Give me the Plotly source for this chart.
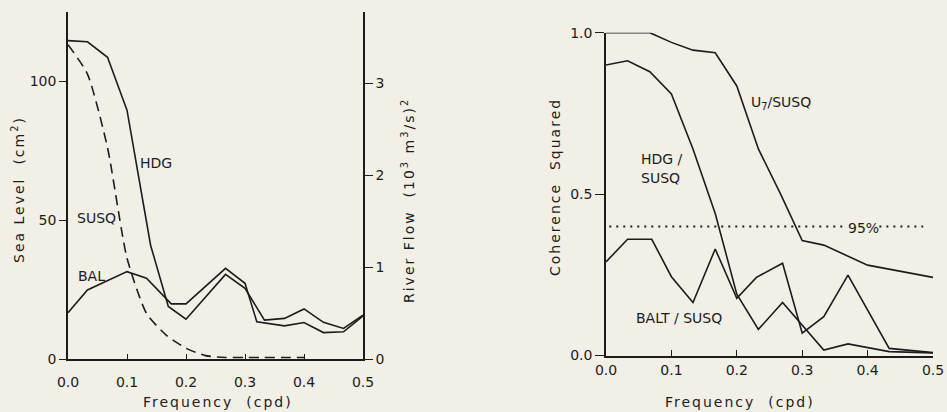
import plotly.graph_objects as go

# ---------------- data ----------------
# Left panel: spectra
freq_hdg = [0.0, 0.033, 0.067, 0.1, 0.14, 0.17, 0.2, 0.267, 0.3, 0.333, 0.367, 0.4, 0.433, 0.467, 0.5]
sea_hdg = [114.5, 114.1, 108.5, 89.5, 41.0, 19.0, 14.4, 30.5, 25.5, 14.1, 14.7, 18.1, 13.3, 11.1, 15.9]

freq_bal = [0.0, 0.033, 0.1, 0.133, 0.175, 0.2, 0.267, 0.3, 0.32, 0.367, 0.4, 0.433, 0.467, 0.5]
sea_bal = [16.7, 24.9, 31.5, 29.1, 19.9, 19.9, 32.7, 27.3, 13.5, 12.0, 13.2, 9.6, 9.9, 15.6]

freq_susq = [0.0, 0.033, 0.067, 0.1, 0.133, 0.167, 0.2, 0.233, 0.267, 0.3, 0.333, 0.367, 0.4]
flow_susq = [3.42, 3.1, 2.3, 1.1, 0.5, 0.26, 0.12, 0.04, 0.02, 0.02, 0.02, 0.02, 0.02]

# Right panel: coherence squared
freq_u7 = [0.0, 0.067, 0.1, 0.133, 0.167, 0.2, 0.233, 0.267, 0.3, 0.333, 0.4, 0.5]
coh_u7 = [1.0, 1.0, 0.97, 0.946, 0.938, 0.835, 0.64, 0.5, 0.356, 0.342, 0.28, 0.242]

freq_hdgs = [0.0, 0.033, 0.067, 0.1, 0.133, 0.167, 0.2, 0.233, 0.27, 0.333, 0.37, 0.433, 0.5]
coh_hdgs = [0.9, 0.913, 0.879, 0.81, 0.64, 0.44, 0.19, 0.081, 0.164, 0.017, 0.036, 0.012, 0.008]

freq_balt = [0.0, 0.033, 0.07, 0.1, 0.133, 0.167, 0.2, 0.23, 0.27, 0.3, 0.333, 0.37, 0.433, 0.5]
coh_balt = [0.29, 0.36, 0.36, 0.244, 0.164, 0.33, 0.177, 0.242, 0.286, 0.069, 0.12, 0.249, 0.022, 0.009]

sig95_level = 0.40
sig95_x_left = [0.005, 0.368]
sig95_x_right = [0.418, 0.485]

x_ticks = [0.0, 0.1, 0.2, 0.3, 0.4, 0.5]
sea_ticks = [0, 50, 100]
flow_ticks = [0, 1, 2, 3]
coh_ticks = [0.0, 0.5, 1.0]

# ---------------- styling ----------------
W, H = 947, 412
BG = "#f2efe6"
INK = "#1c1c1c"
FONT = "DejaVu Sans"

def px(x):
    return x / W

def py(y):
    return 1 - y / H

line = dict(color=INK, width=1.6)

fig = go.Figure()
fig.add_trace(go.Scatter(x=freq_hdg, y=sea_hdg, mode="lines", line=line, xaxis="x", yaxis="y"))
fig.add_trace(go.Scatter(x=freq_bal, y=sea_bal, mode="lines", line=line, xaxis="x", yaxis="y"))
fig.add_trace(go.Scatter(x=freq_susq, y=flow_susq, mode="lines",
                         line=dict(color=INK, width=1.6, dash="10px,6px", shape="spline", smoothing=0.6),
                         xaxis="x", yaxis="y2"))

fig.add_trace(go.Scatter(x=freq_u7, y=coh_u7, mode="lines", line=line, xaxis="x3", yaxis="y3"))
fig.add_trace(go.Scatter(x=freq_hdgs, y=coh_hdgs, mode="lines", line=line, xaxis="x3", yaxis="y3"))
fig.add_trace(go.Scatter(x=freq_balt, y=coh_balt, mode="lines", line=line, xaxis="x3", yaxis="y3"))
for seg in (sig95_x_left, sig95_x_right):
    fig.add_trace(go.Scatter(x=seg, y=[sig95_level] * 2, mode="lines",
                             line=dict(color=INK, width=2, dash="2px,5px"),
                             xaxis="x3", yaxis="y3"))

axis_common = dict(showgrid=False, zeroline=False, showline=True, linecolor=INK, linewidth=1.6,
                   automargin=False,
                   tickcolor=INK, tickwidth=1.4, tickfont=dict(family=FONT, size=14, color=INK))

left_dom_x = [px(68), px(363)]
left_dom_y = [py(359.3), py(11.7)]
right_dom_x = [px(606), px(933)]
right_dom_y = [py(355.5), py(32.7)]

fig.update_layout(
    template="none",
    width=W, height=H, margin=dict(l=0, r=0, t=0, b=0, pad=0, autoexpand=False),
    paper_bgcolor=BG, plot_bgcolor=BG, showlegend=False,
    font=dict(family=FONT, size=14, color=INK),
    xaxis=dict(axis_common, domain=left_dom_x, range=[0, 0.5], anchor="y",
               tickvals=x_ticks, tickformat=".1f", ticks="inside", ticklen=6, ticklabelstandoff=9),
    yaxis=dict(axis_common, domain=left_dom_y, range=[0, 124.9], anchor="x",
               tickvals=sea_ticks, ticks="outside", ticklen=7),
    yaxis2=dict(axis_common, range=[0, 3.778], anchor="x", overlaying="y", side="right",
                tickvals=flow_ticks, ticks="outside", ticklen=8),
    xaxis3=dict(axis_common, domain=right_dom_x, range=[0, 0.5], anchor="y3",
                tickvals=x_ticks, tickformat=".1f", ticks="inside", ticklen=6, ticklabelstandoff=1),
    yaxis3=dict(axis_common, domain=right_dom_y, range=[0, 1.0], anchor="x3",
                tickvals=coh_ticks, tickformat=".1f", ticks="outside", ticklen=9),
)

def ann(text, x, y, xanchor="left", angle=0, size=14):
    fig.add_annotation(text=text, x=px(x), y=py(y), xref="paper", yref="paper",
                       xanchor=xanchor, yanchor="middle", showarrow=False, textangle=angle,
                       font=dict(family=FONT, size=size, color=INK))

sp = '<span style="letter-spacing:2px">{}</span>'

# series labels
ann("HDG", 138, 163)
ann("SUSQ", 75, 218)
ann("BAL", 76, 276)
ann("U<sub>7</sub>/SUSQ", 749, 103)
ann("HDG /", 639, 159)
ann("SUSQ", 639, 178)
ann("BALT / SUSQ", 634, 318)
ann("95%", 863, 228, xanchor="center")

# axis titles
ann(sp.format("Frequency  (cpd)"), 218, 402, xanchor="center")
ann(sp.format("Frequency  (cpd)"), 740, 402, xanchor="center")
ann(sp.format("Sea Level  (cm<sup>2</sup>)"), 18, 190, xanchor="center", angle=-90)
ann(sp.format("River Flow  (10<sup>3</sup> m<sup>3</sup>/s)<sup>2</sup>"), 408, 201, xanchor="center", angle=-90)
ann(sp.format("Coherence  Squared"), 555, 187, xanchor="center", angle=-90)

fig.write_html(
    "out.html",
    config={"displayModeBar": False},
    post_script="document.body.style.margin='0px';"
                "document.body.style.overflow='hidden';"
                "document.documentElement.style.overflow='hidden';",
)
